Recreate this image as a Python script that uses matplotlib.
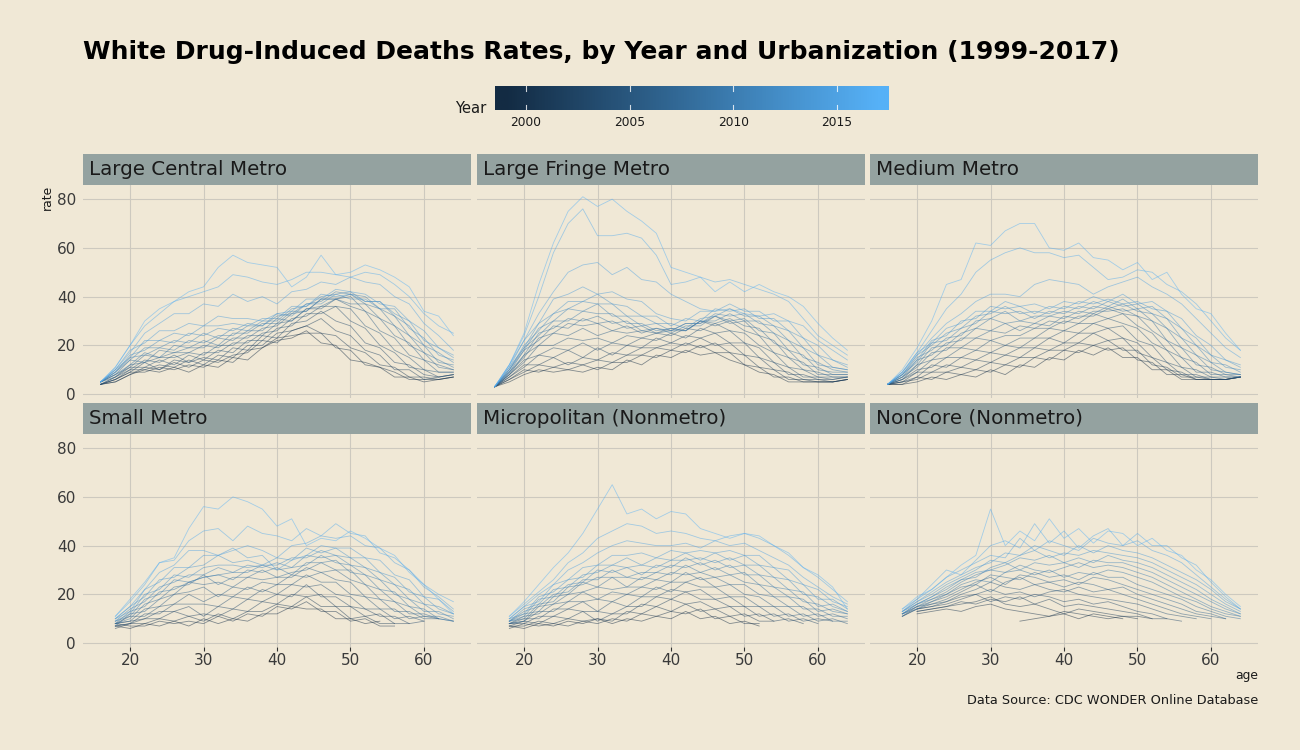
import numpy as np
import matplotlib
matplotlib.use("Agg")
import matplotlib.pyplot as plt
from matplotlib.colors import LinearSegmentedColormap, Normalize

nan = np.nan

years = list(range(1999, 2018))
ages = list(range(16, 65, 2))
panel_names = ["Large Central Metro", "Large Fringe Metro", "Medium Metro",
               "Small Metro", "Micropolitan (Nonmetro)", "NonCore (Nonmetro)"]

# rows: 1999 ... 2017 ; columns: ages 16,18,...,64
large_central = [
    [4, 5, 8, 10, 9, 11, 9, 12, 11, 15, 14, 19, 22, 23, 26, 21, 20, 14, 13, 11, 7, 7, 5, 6, 7],
    [4, 6, 9, 9, 11, 10, 12, 11, 14, 13, 18, 19, 23, 24, 25, 25, 19, 18, 12, 11, 9, 6, 6, 6, 7],
    [4, 5, 8, 11, 10, 13, 11, 14, 13, 16, 17, 22, 21, 26, 28, 25, 24, 19, 17, 12, 11, 7, 7, 6, 7],
    [4, 6, 10, 10, 12, 11, 14, 12, 16, 15, 20, 20, 25, 26, 28, 31, 26, 24, 18, 16, 10, 10, 6, 7, 8],
    [4, 6, 9, 13, 10, 14, 13, 15, 14, 19, 18, 24, 23, 29, 30, 34, 30, 28, 21, 19, 13, 12, 8, 7, 8],
    [4, 7, 11, 11, 14, 12, 16, 14, 18, 17, 22, 22, 27, 28, 33, 33, 36, 30, 27, 20, 17, 11, 10, 7, 8],
    [4, 7, 10, 14, 13, 16, 13, 17, 17, 21, 21, 25, 26, 31, 32, 36, 36, 35, 28, 25, 18, 15, 10, 9, 9],
    [5, 7, 12, 13, 15, 15, 17, 16, 20, 20, 24, 24, 29, 30, 35, 35, 39, 36, 34, 26, 23, 16, 14, 9, 9],
    [5, 8, 11, 16, 15, 17, 17, 20, 19, 23, 23, 27, 28, 33, 34, 39, 39, 40, 34, 31, 24, 21, 14, 12, 10],
    [5, 8, 14, 13, 18, 17, 19, 19, 23, 22, 26, 26, 31, 30, 35, 36, 39, 37, 37, 31, 28, 20, 17, 11, 10],
    [5, 8, 12, 17, 15, 20, 19, 22, 20, 25, 25, 29, 29, 34, 34, 39, 39, 41, 37, 35, 28, 24, 17, 14, 11],
    [5, 9, 15, 16, 19, 18, 22, 21, 24, 24, 28, 28, 32, 33, 37, 38, 42, 41, 40, 35, 32, 24, 20, 13, 12],
    [5, 9, 14, 19, 19, 22, 21, 25, 23, 27, 26, 30, 30, 35, 36, 40, 41, 42, 38, 38, 32, 28, 20, 17, 13],
    [5, 9, 16, 18, 22, 21, 25, 24, 27, 26, 29, 28, 33, 32, 37, 37, 41, 39, 39, 35, 35, 27, 23, 16, 14],
    [5, 10, 15, 22, 22, 25, 24, 28, 28, 29, 28, 31, 31, 36, 36, 41, 40, 41, 38, 38, 33, 30, 22, 19, 15],
    [5, 10, 18, 21, 26, 26, 29, 28, 32, 31, 31, 30, 33, 34, 39, 39, 43, 42, 41, 37, 36, 30, 26, 19, 16],
    [5, 10, 17, 25, 29, 33, 33, 37, 36, 41, 38, 40, 37, 42, 43, 46, 45, 48, 46, 45, 40, 37, 29, 24, 18],
    [5, 11, 20, 28, 33, 38, 40, 42, 44, 49, 48, 46, 45, 47, 50, 50, 49, 48, 50, 49, 45, 40, 33, 28, 25],
    [5, 11, 20, 30, 35, 38, 42, 44, 52, 57, 54, 53, 52, 44, 48, 57, 49, 50, 53, 51, 48, 44, 34, 32, 24],
]

large_fringe = [
    [3, 5, 8, 10, 9, 10, 9, 11, 10, 14, 12, 16, 15, 18, 16, 17, 14, 12, 9, 8, 5, 5, 5, 5, 6],
    [3, 6, 10, 9, 11, 10, 12, 10, 13, 13, 16, 15, 18, 17, 20, 17, 17, 12, 11, 7, 7, 5, 5, 5, 6],
    [3, 6, 9, 12, 11, 13, 12, 14, 13, 16, 16, 19, 18, 21, 19, 21, 17, 16, 11, 10, 6, 6, 5, 5, 6],
    [3, 7, 12, 12, 15, 12, 15, 14, 17, 16, 19, 19, 21, 20, 23, 20, 21, 16, 15, 10, 9, 6, 6, 5, 6],
    [3, 7, 11, 16, 15, 18, 15, 19, 16, 20, 19, 23, 21, 24, 23, 25, 21, 21, 15, 13, 8, 8, 6, 6, 7],
    [3, 8, 14, 16, 19, 18, 21, 18, 21, 20, 23, 22, 25, 23, 27, 25, 26, 21, 19, 13, 11, 7, 7, 6, 7],
    [3, 8, 13, 20, 20, 23, 22, 23, 21, 24, 23, 25, 24, 27, 26, 29, 26, 25, 20, 17, 11, 10, 7, 7, 7],
    [3, 8, 16, 20, 25, 24, 27, 24, 26, 25, 26, 25, 27, 26, 30, 28, 30, 26, 24, 17, 15, 10, 9, 7, 7],
    [3, 9, 15, 23, 25, 29, 28, 29, 26, 28, 25, 27, 26, 29, 29, 32, 29, 30, 24, 22, 15, 13, 8, 8, 8],
    [3, 9, 18, 22, 28, 27, 31, 29, 30, 27, 28, 25, 26, 26, 30, 29, 31, 28, 27, 21, 18, 12, 11, 8, 8],
    [3, 9, 16, 25, 27, 31, 30, 32, 29, 30, 26, 27, 25, 28, 28, 32, 30, 31, 26, 25, 18, 16, 10, 9, 9],
    [3, 10, 19, 24, 30, 30, 34, 33, 33, 29, 29, 26, 27, 26, 30, 30, 33, 30, 30, 25, 22, 15, 13, 10, 9],
    [3, 10, 18, 27, 30, 35, 34, 37, 32, 32, 28, 29, 26, 29, 29, 33, 32, 33, 29, 28, 22, 19, 12, 11, 10],
    [3, 10, 20, 26, 33, 35, 38, 37, 37, 32, 32, 29, 29, 27, 31, 32, 35, 32, 32, 28, 26, 19, 16, 11, 10],
    [3, 11, 19, 29, 33, 38, 38, 41, 37, 36, 32, 32, 28, 31, 30, 35, 34, 35, 31, 31, 26, 23, 16, 14, 11],
    [3, 11, 22, 29, 39, 41, 44, 41, 42, 39, 38, 33, 31, 30, 34, 34, 37, 34, 34, 30, 30, 23, 20, 14, 12],
    [3, 12, 22, 33, 42, 50, 53, 54, 49, 52, 47, 46, 41, 38, 35, 34, 35, 33, 32, 33, 30, 28, 22, 18, 14],
    [3, 12, 24, 40, 58, 70, 76, 65, 65, 66, 64, 57, 45, 46, 48, 46, 47, 45, 43, 41, 38, 31, 24, 20, 16],
    [3, 12, 25, 45, 62, 75, 81, 77, 80, 75, 71, 66, 52, 50, 48, 42, 46, 42, 45, 42, 40, 36, 29, 23, 18],
]

medium_metro = [
    [4, 4, 5, 7, 6, 8, 7, 10, 8, 12, 11, 15, 14, 18, 16, 19, 15, 15, 10, 10, 6, 6, 6, 6, 7],
    [4, 4, 7, 6, 9, 8, 10, 9, 12, 11, 15, 14, 18, 17, 20, 18, 19, 14, 13, 8, 8, 6, 6, 6, 7],
    [4, 5, 6, 9, 9, 11, 10, 13, 12, 15, 15, 18, 18, 21, 20, 22, 18, 18, 12, 11, 7, 7, 6, 6, 7],
    [4, 5, 9, 9, 12, 11, 14, 13, 16, 15, 19, 18, 21, 21, 25, 22, 23, 17, 15, 10, 9, 6, 6, 6, 7],
    [4, 5, 7, 12, 11, 15, 14, 17, 16, 19, 19, 23, 21, 25, 25, 27, 23, 21, 15, 13, 8, 8, 6, 6, 7],
    [4, 6, 10, 11, 15, 15, 18, 17, 20, 19, 23, 23, 26, 25, 29, 27, 28, 22, 20, 13, 11, 7, 7, 6, 7],
    [4, 6, 9, 14, 15, 19, 18, 22, 20, 23, 23, 27, 26, 29, 29, 31, 29, 27, 21, 18, 11, 10, 7, 7, 7],
    [4, 6, 12, 14, 19, 19, 23, 22, 24, 24, 27, 27, 30, 29, 33, 31, 33, 28, 25, 18, 15, 9, 9, 7, 7],
    [4, 7, 11, 17, 18, 23, 23, 26, 25, 28, 27, 30, 29, 32, 32, 35, 33, 32, 26, 22, 15, 13, 8, 8, 7],
    [4, 7, 14, 16, 21, 22, 27, 26, 29, 26, 29, 28, 32, 31, 34, 34, 35, 32, 30, 22, 19, 12, 11, 8, 8],
    [4, 7, 12, 19, 20, 25, 27, 31, 29, 30, 29, 32, 31, 34, 33, 36, 34, 35, 30, 27, 19, 16, 10, 9, 8],
    [4, 8, 15, 18, 23, 24, 30, 31, 34, 30, 32, 32, 34, 33, 36, 35, 37, 34, 33, 27, 23, 16, 13, 9, 8],
    [4, 8, 13, 21, 22, 27, 29, 34, 33, 34, 31, 34, 33, 36, 35, 38, 36, 37, 33, 31, 23, 20, 13, 12, 9],
    [4, 8, 16, 20, 25, 27, 32, 33, 36, 33, 34, 33, 36, 35, 38, 36, 39, 35, 36, 31, 27, 20, 16, 11, 10],
    [4, 8, 14, 22, 24, 30, 31, 36, 35, 36, 33, 36, 35, 38, 37, 39, 37, 38, 35, 34, 27, 23, 16, 14, 11],
    [4, 9, 17, 21, 27, 29, 34, 34, 38, 36, 37, 35, 38, 37, 40, 38, 41, 37, 38, 34, 31, 24, 20, 14, 12],
    [4, 9, 16, 23, 29, 33, 38, 41, 41, 40, 45, 47, 46, 45, 41, 44, 46, 48, 44, 41, 37, 31, 25, 19, 15],
    [4, 9, 17, 26, 35, 41, 50, 55, 58, 60, 58, 58, 56, 57, 52, 47, 48, 51, 50, 45, 42, 37, 30, 23, 18],
    [4, 10, 19, 30, 45, 47, 62, 61, 67, 70, 70, 60, 59, 62, 56, 55, 51, 54, 47, 50, 41, 35, 33, 25, 18],
]

small_metro = [
    [nan, 7, 6, 8, 7, 9, 7, 10, 8, 10, 9, 12, 12, 15, 14, 14, 10, 10, 8, 9, nan, nan, nan, nan, nan],
    [nan, 8, 7, 7, 9, 8, 9, 8, 11, 9, 12, 11, 15, 14, 17, 13, 13, 9, 10, 7, 7, nan, nan, nan, nan],
    [nan, 6, 8, 8, 10, 9, 11, 9, 12, 10, 13, 13, 16, 15, 19, 15, 15, 10, 11, 8, 8, nan, nan, nan, nan],
    [nan, 7, 8, 10, 10, 13, 11, 12, 11, 14, 13, 17, 16, 20, 19, 20, 15, 15, 11, 12, 8, 8, nan, nan, nan],
    [nan, 8, 9, 10, 13, 13, 15, 11, 15, 14, 18, 17, 20, 19, 24, 19, 19, 15, 14, 11, 11, 8, 9, nan, nan],
    [nan, 7, 8, 12, 12, 16, 16, 16, 15, 19, 18, 22, 20, 24, 23, 24, 20, 19, 14, 14, 10, 11, 9, nan, nan],
    [nan, 8, 11, 11, 15, 16, 20, 17, 20, 19, 23, 21, 24, 24, 28, 25, 25, 20, 19, 14, 14, 10, 11, 10, nan],
    [nan, 8, 9, 14, 15, 20, 21, 23, 19, 23, 22, 25, 24, 28, 27, 29, 26, 25, 19, 18, 13, 13, 10, 10, nan],
    [nan, 7, 12, 13, 18, 20, 25, 24, 25, 23, 27, 26, 27, 27, 31, 29, 30, 26, 24, 18, 17, 12, 12, 10, 9],
    [nan, 8, 10, 16, 18, 23, 24, 28, 24, 27, 27, 30, 27, 29, 30, 33, 30, 30, 24, 22, 17, 15, 11, 11, 9],
    [nan, 8, 13, 15, 21, 22, 25, 27, 28, 26, 30, 29, 31, 28, 33, 33, 34, 29, 28, 22, 21, 15, 14, 10, 9],
    [nan, 9, 11, 18, 20, 26, 25, 27, 28, 29, 29, 32, 30, 31, 32, 36, 33, 32, 28, 26, 20, 18, 13, 13, 10],
    [nan, 9, 14, 17, 23, 25, 28, 28, 31, 29, 32, 31, 33, 31, 36, 35, 36, 32, 31, 26, 24, 18, 16, 12, 11],
    [nan, 9, 12, 20, 22, 28, 27, 31, 32, 32, 31, 32, 32, 35, 35, 38, 36, 35, 31, 29, 24, 22, 16, 15, 12],
    [nan, 10, 15, 19, 26, 27, 31, 32, 36, 33, 34, 32, 35, 34, 39, 37, 39, 35, 35, 29, 27, 21, 19, 14, 12],
    [nan, 10, 13, 22, 25, 31, 31, 36, 36, 39, 35, 36, 30, 34, 36, 40, 39, 39, 35, 34, 28, 26, 19, 18, 13],
    [nan, 10, 15, 22, 29, 32, 38, 38, 36, 38, 40, 38, 35, 40, 41, 44, 43, 44, 40, 39, 33, 30, 23, 19, 14],
    [nan, 11, 17, 24, 33, 34, 42, 46, 47, 42, 48, 45, 44, 42, 47, 44, 49, 45, 44, 37, 35, 30, 24, 20, 17],
    [nan, 11, 18, 25, 33, 35, 47, 56, 55, 60, 58, 55, 48, 51, 40, 43, 42, 46, 43, 39, 36, 29, 24, 18, 12],
]

micropolitan = [
    [nan, 7, 6, 8, 7, 9, 8, 10, 8, 10, 9, 11, 10, 13, 10, 11, 8, 9, 7, nan, nan, nan, nan, nan, nan],
    [nan, 6, 8, 7, 8, 7, 9, 8, 10, 9, 12, 11, 13, 12, 14, 10, 11, 8, 8, nan, nan, nan, nan, nan, nan],
    [nan, 7, 7, 9, 8, 10, 9, 10, 9, 13, 12, 15, 13, 16, 13, 14, 11, 12, 9, 9, nan, nan, nan, nan, nan],
    [nan, 7, 9, 8, 11, 10, 13, 9, 12, 12, 16, 15, 18, 16, 17, 14, 15, 11, 12, 9, 10, 8, nan, nan, nan],
    [nan, 8, 8, 11, 11, 14, 13, 13, 12, 15, 15, 19, 18, 21, 18, 18, 15, 15, 11, 12, 9, 10, 8, nan, nan],
    [nan, 8, 10, 10, 14, 14, 17, 13, 17, 15, 19, 19, 22, 21, 22, 18, 19, 15, 15, 11, 12, 9, 10, 9, nan],
    [nan, 8, 9, 13, 13, 17, 17, 18, 17, 20, 19, 23, 21, 25, 23, 23, 19, 19, 15, 15, 11, 12, 9, 10, 8],
    [nan, 8, 11, 12, 16, 17, 21, 18, 21, 20, 23, 22, 25, 25, 27, 23, 24, 20, 19, 15, 15, 11, 12, 9, 9],
    [nan, 8, 9, 15, 16, 20, 21, 23, 22, 23, 23, 26, 25, 29, 26, 27, 24, 24, 20, 19, 15, 15, 11, 12, 10],
    [nan, 9, 12, 13, 19, 20, 25, 23, 27, 23, 27, 26, 29, 28, 29, 27, 28, 25, 24, 19, 19, 14, 14, 11, 11],
    [nan, 9, 10, 16, 17, 23, 24, 27, 27, 27, 26, 29, 28, 32, 29, 31, 28, 29, 24, 23, 19, 18, 13, 14, 12],
    [nan, 9, 13, 15, 20, 21, 26, 26, 30, 27, 29, 29, 32, 31, 33, 30, 32, 28, 28, 23, 22, 17, 16, 13, 12],
    [nan, 9, 11, 18, 19, 24, 25, 30, 29, 31, 28, 32, 31, 35, 32, 34, 31, 32, 28, 27, 22, 21, 15, 16, 13],
    [nan, 9, 14, 16, 22, 23, 28, 29, 32, 31, 32, 31, 34, 34, 35, 33, 35, 32, 32, 27, 26, 20, 19, 15, 13],
    [nan, 10, 12, 19, 21, 26, 27, 32, 32, 35, 32, 35, 34, 37, 34, 37, 34, 36, 32, 31, 26, 24, 18, 18, 14],
    [nan, 10, 15, 17, 24, 26, 31, 32, 36, 36, 37, 35, 38, 37, 38, 37, 38, 36, 36, 31, 30, 24, 22, 17, 15],
    [nan, 10, 15, 20, 24, 30, 33, 37, 40, 42, 41, 40, 40, 41, 39, 42, 40, 41, 38, 35, 32, 27, 23, 19, 16],
    [nan, 11, 16, 21, 26, 33, 37, 43, 46, 49, 48, 45, 46, 45, 43, 42, 44, 45, 43, 40, 36, 31, 27, 22, 17],
    [nan, 11, 17, 24, 31, 37, 45, 55, 65, 53, 55, 51, 54, 53, 47, 45, 43, 45, 44, 40, 37, 31, 28, 23, 14],
]

noncore = [
    [nan, nan, nan, nan, nan, nan, nan, nan, nan, 9, 10, 11, 12, 10, 12, 11, 10, nan, nan, nan, nan, nan, nan, nan, nan],
    [nan, nan, 12, 13, 14, 13, 15, 16, 14, 13, 12, 11, 13, 12, 11, 10, 11, 10, nan, nan, nan, nan, nan, nan, nan],
    [nan, nan, 13, 14, 15, 16, 17, 19, 16, 15, 16, 14, 12, 14, 13, 12, 11, 11, 10, nan, nan, nan, nan, nan, nan],
    [nan, nan, 13, 14, 15, 17, 16, 18, 17, 19, 16, 18, 15, 16, 15, 14, 13, 12, 10, 10, nan, nan, nan, nan, nan],
    [nan, nan, 14, 15, 16, 18, 20, 17, 19, 18, 20, 19, 17, 18, 16, 17, 15, 13, 12, 10, 9, nan, nan, nan, nan],
    [nan, 11, 14, 15, 17, 19, 20, 22, 20, 21, 19, 21, 22, 20, 19, 18, 17, 16, 14, 12, 11, 10, nan, nan, nan],
    [nan, 11, 14, 16, 17, 20, 22, 25, 23, 22, 24, 22, 21, 23, 21, 22, 20, 18, 16, 14, 12, 11, 10, nan, nan],
    [nan, 11, 15, 16, 18, 21, 24, 21, 25, 27, 24, 25, 23, 25, 24, 22, 23, 20, 18, 16, 14, 12, 11, 10, nan],
    [nan, 12, 15, 17, 19, 22, 25, 27, 24, 28, 27, 25, 26, 24, 27, 26, 24, 22, 20, 18, 16, 13, 12, 10, nan],
    [nan, 12, 14, 17, 20, 23, 24, 28, 27, 26, 29, 27, 28, 26, 29, 27, 27, 24, 22, 20, 18, 15, 13, 11, 10],
    [nan, 12, 15, 18, 20, 24, 26, 25, 29, 30, 28, 30, 27, 29, 28, 30, 29, 27, 25, 22, 19, 17, 14, 12, 11],
    [nan, 12, 16, 18, 21, 25, 28, 30, 29, 32, 30, 29, 31, 33, 31, 32, 31, 29, 27, 24, 21, 18, 15, 13, 11],
    [nan, 12, 16, 19, 22, 26, 27, 31, 33, 30, 33, 32, 33, 31, 34, 33, 33, 31, 29, 26, 23, 20, 17, 14, 12],
    [nan, 13, 16, 19, 23, 26, 29, 30, 32, 35, 34, 36, 33, 35, 33, 36, 34, 33, 31, 28, 25, 22, 18, 15, 12],
    [nan, 13, 17, 20, 24, 27, 30, 34, 33, 36, 38, 35, 37, 36, 38, 37, 36, 35, 33, 30, 27, 24, 20, 16, 13],
    [nan, 13, 17, 21, 25, 28, 31, 33, 37, 36, 40, 38, 36, 40, 37, 40, 38, 37, 35, 32, 29, 26, 22, 17, 14],
    [nan, 13, 18, 22, 27, 30, 33, 36, 35, 43, 38, 42, 40, 38, 43, 41, 40, 42, 38, 36, 33, 28, 23, 18, 14],
    [nan, 14, 18, 24, 30, 28, 34, 40, 42, 39, 49, 41, 46, 39, 44, 47, 40, 45, 40, 40, 35, 32, 25, 19, 14],
    [nan, 14, 19, 22, 27, 32, 36, 55, 40, 46, 42, 51, 43, 47, 41, 46, 45, 40, 43, 38, 36, 30, 26, 20, 15],
]

panel_data = [large_central, large_fringe, medium_metro, small_metro, micropolitan, noncore]

x_ticks = [20, 30, 40, 50, 60]
y_ticks = [0, 20, 40, 60, 80]
legend_ticks = [2000, 2005, 2010, 2015]

title = "White Drug-Induced Deaths Rates, by Year and Urbanization (1999-2017)"
caption = "Data Source: CDC WONDER Online Database"

# ---------------- styling ----------------
BG = "#F0E8D6"
STRIP = "#94A2A0"
GRID = "#CDC9BF"
TXT = "#3a3a3a"
W, H = 1300, 750

fig = plt.figure(figsize=(13, 7.5), dpi=100, facecolor=BG)


def rect(x0, y0, x1, y1):
    return [x0 / W, 1 - y1 / H, (x1 - x0) / W, (y1 - y0) / H]


cmap = LinearSegmentedColormap.from_list("yr", ["#132B43", "#56B1F7"])
norm = Normalize(min(years), max(years))

cols = [(83, 471), (477, 865), (870, 1258)]
rows = [((154, 185), (185, 398)), ((403, 434), (434, 647))]

for i, (name, data) in enumerate(zip(panel_names, panel_data)):
    r, c = divmod(i, 3)
    (sy0, sy1), (py0, py1) = rows[r]
    x0, x1 = cols[c]
    sax = fig.add_axes(rect(x0, sy0, x1, sy1))
    sax.set_facecolor(STRIP)
    sax.set_xticks([])
    sax.set_yticks([])
    for s in sax.spines.values():
        s.set_visible(False)
    sax.text(6 / (x1 - x0), 0.5, name, transform=sax.transAxes, ha="left",
             va="center", fontsize=14.3, color="#1a1a1a")

    ax = fig.add_axes(rect(x0, py0, x1, py1))
    ax.set_facecolor(BG)
    for yr, vals in zip(years, data):
        ax.plot(ages, np.array(vals, dtype=float), color=cmap(norm(yr)),
                lw=0.6, alpha=0.5)
    ax.set_xlim(13.6, 66.4)
    ax.set_ylim(-1.6, 85.8)
    ax.set_xticks(x_ticks)
    ax.set_yticks(y_ticks)
    ax.grid(True, color=GRID, lw=0.8)
    ax.set_axisbelow(True)
    for s in ax.spines.values():
        s.set_visible(False)
    ax.tick_params(axis="y", length=0, pad=5, labelsize=11, labelcolor=TXT)
    ax.tick_params(axis="x", length=3, width=0.8, color="#333333", pad=1.5,
                   labelsize=11, labelcolor=TXT)
    if c != 0:
        ax.set_yticklabels([])
    if r != 1:
        ax.set_xticklabels([])
        ax.tick_params(axis="x", length=0)

# axis titles
fig.text(47 / W, 1 - 185 / H, "rate", rotation=90, ha="center", va="top",
         fontsize=8.9, color="#1a1a1a")
fig.text(1258 / W, 1 - 676 / H, "age", ha="right", va="center",
         fontsize=8.9, color="#1a1a1a")
fig.text(1258 / W, 1 - 701 / H, caption, ha="right", va="center",
         fontsize=9.3, color="#1a1a1a")

# title
fig.text(83 / W, 1 - 52.5 / H, title, ha="left", va="center", fontsize=18,
         fontweight="bold", color="black")

# colour bar legend
cx0, cx1 = 495, 889
cax = fig.add_axes(rect(cx0, 86, cx1, 110))
lo, hi = min(years) - 0.5, max(years) + 0.5
grad = np.linspace(lo, hi, 500)[None, :]
cax.imshow(grad, cmap=cmap, norm=norm, aspect="auto", extent=[lo, hi, 0, 1])
cax.set_xlim(lo, hi)
cax.set_ylim(0, 1)
cax.set_xticks([])
cax.set_yticks([])
for s in cax.spines.values():
    s.set_visible(False)
for t in legend_ticks:
    cax.plot([t, t], [0, 0.2], color="white", lw=0.8, alpha=0.8)
    cax.plot([t, t], [0.8, 1], color="white", lw=0.8, alpha=0.8)
    xp = cx0 + (t - lo) / (hi - lo) * (cx1 - cx0)
    fig.text(xp / W, 1 - 122.5 / H, str(t), ha="center", va="center",
             fontsize=8.8, color="#1a1a1a")
fig.text(486 / W, 1 - 108.5 / H, "Year", ha="right", va="center",
         fontsize=10.6, color="#1a1a1a")

fig.savefig("out.png", dpi=100, facecolor=BG)
